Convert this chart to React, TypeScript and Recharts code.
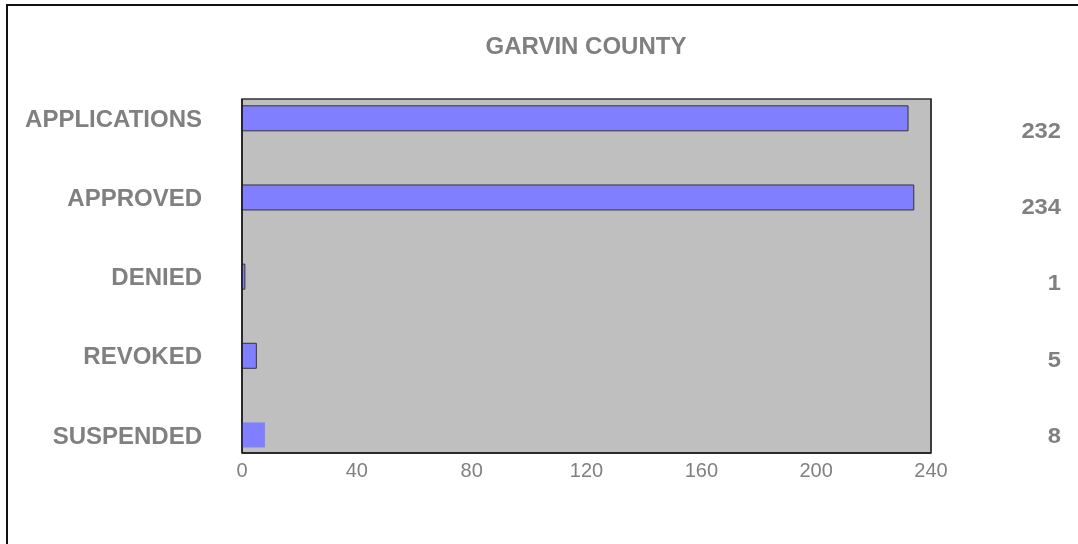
import React from 'react';
import { BarChart, Bar, XAxis, YAxis, ReferenceArea, Cell } from 'recharts';

const title = 'GARVIN COUNTY';
const categories = ['APPLICATIONS', 'APPROVED', 'DENIED', 'REVOKED', 'SUSPENDED'];
const counts = [232, 234, 1, 5, 8];
const xTicks = [0, 40, 80, 120, 160, 200, 240];

const data = categories.map((name, i) => ({ name, value: counts[i], pos: i }));
const posTicks = categories.map((_, i) => i);

const FONT = '"Liberation Sans", Arial, sans-serif';
const TEXT = '#808080';

const RightTick = (props: any) => {
  const { x, y, payload } = props;
  return (
    <g transform={`translate(${x + 130},${y}) scale(1.08,1)`}>
      <text x={0} y={0} dy="0.36em" textAnchor="end" fill={TEXT} fontSize={22} fontWeight="bold" fontFamily={FONT}>
        {counts[payload.value]}
      </text>
    </g>
  );
};

export default function App() {
  return (
    <div>
      <div
        style={{
          position: 'fixed',
          left: 6,
          top: 4,
          width: 1200,
          height: 700,
          border: '2px solid #111',
          boxSizing: 'border-box',
        }}
      />
      <div style={{ position: 'fixed', left: 0, top: 0 }}>
        <BarChart
          width={1078}
          height={544}
          data={data}
          layout="vertical"
          margin={{ top: 99, right: 0, bottom: 51, left: 0 }}
        >
          <XAxis
            type="number"
            domain={[0, 240]}
            ticks={xTicks}
            interval={0}
            tickLine={false}
            tickSize={0}
            tickMargin={10}
            height={40}
            axisLine={{ stroke: '#1a1a1a', strokeWidth: 1.5 }}
            tick={{ fill: TEXT, fontSize: 20, fontFamily: FONT }}
          />
          <YAxis
            yAxisId="left"
            type="number"
            dataKey="pos"
            domain={[-0.245, 4.227]}
            allowDataOverflow
            ticks={posTicks}
            interval={0}
            width={242}
            tickLine={false}
            tickSize={0}
            tickMargin={40}
            axisLine={{ stroke: '#1a1a1a', strokeWidth: 1.5 }}
            tickFormatter={(v: number) => categories[v]}
            tick={{ fill: TEXT, fontSize: 24, fontWeight: 'bold', fontFamily: FONT }}
          />
          <YAxis
            yAxisId="right"
            orientation="right"
            type="number"
            dataKey="pos"
            domain={[-0.4066, 4.236]}
            allowDataOverflow
            ticks={posTicks}
            interval={0}
            width={147}
            tickLine={false}
            tickSize={0}
            tickMargin={0}
            axisLine={{ stroke: '#333', strokeWidth: 1.5 }}
            tick={<RightTick />}
          />
          <ReferenceArea
            yAxisId="left"
            x1={0}
            x2={240}
            fill="#BFBFBF"
            fillOpacity={1}
            stroke="#333"
            strokeWidth={1.5}
          />
          <Bar
            yAxisId="left"
            dataKey="value"
            barSize={25}
            fill="#8080FF"
            stroke="#333"
            strokeWidth={1}
            isAnimationActive={false}
          >
            {data.map((d, i) => (
              <Cell key={d.name} stroke={i === data.length - 1 ? 'none' : '#333'} />
            ))}
          </Bar>
        </BarChart>
      </div>
      <div
        style={{
          position: 'fixed',
          left: 586,
          top: 32,
          transform: 'translateX(-50%)',
          whiteSpace: 'nowrap',
          fontFamily: FONT,
          fontWeight: 'bold',
          fontSize: 24,
          color: TEXT,
        }}
      >
        {title}
      </div>
    </div>
  );
}
